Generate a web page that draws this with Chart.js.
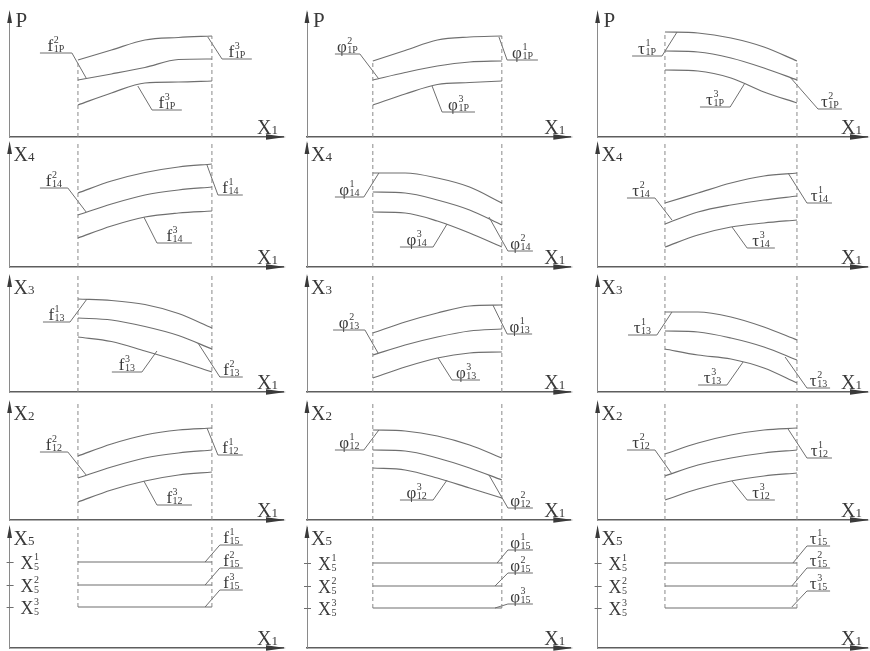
<!DOCTYPE html>
<html>
<head>
<meta charset="utf-8">
<script src="https://cdn.jsdelivr.net/npm/chart.js@4.4.1/dist/chart.umd.min.js"></script>
<style>
  html, body { margin: 0; padding: 0; background: #fff; }
  #wrap { position: relative; width: 870px; height: 651px; overflow: hidden; }
  #wrap canvas { position: absolute; }
</style>
</head>
<body>
<div id="wrap"></div>
<script>
const x1Samples = [25, 37.25, 49.5, 61.75, 74];

// row axis names and the subscripts used by the curve labels of that row
const rowAxes = ["P", "X4", "X3", "X2", "X5"];
const rowSubs = ["1P", "14", "13", "12", "15"];
const colSymbols = ["f", "φ", "τ"];

// curve values (height above the X1 axis), top / middle / bottom curve
const f_P   = [[77, 87, 97, 99.5, 101], [57, 63, 69.5, 77.5, 78], [32, 44, 54, 55, 56]];
const phi_P = [[76, 86.5, 97, 100, 101], [57, 64.5, 71, 75, 76], [32, 43, 52.5, 54.5, 56]];
const tau_P = [[105, 104, 99, 90, 76], [86, 85, 79, 69, 57], [67, 66, 59, 45, 34]];

const f_X4   = [[74, 86, 94.5, 100, 103], [52, 63, 72, 77, 80], [29, 41, 50, 54, 56]];
const phi_X4 = [[94, 94, 89, 80, 64], [75, 74, 67, 57, 42], [55, 54, 46, 34, 20]];
const tau_X4 = [[64, 74, 84, 91, 94], [43, 55, 62, 67, 71], [20, 32, 40, 44, 47]];

const f_X3   = [[93, 91.5, 87.5, 78.5, 64], [74, 72, 65.5, 56.5, 43], [55, 50.5, 41, 31, 20]];
const phi_X3 = [[59, 70, 79, 86, 87], [37, 47, 55, 61, 63], [14, 25, 34, 39, 40]];
const tau_X3 = [[80, 80, 75, 65, 52], [61, 60, 54, 45, 32], [43, 37, 33, 24, 9]];

const f_X2   = [[64, 76, 85, 90, 92], [42, 53, 62, 67, 70], [18, 30, 39, 45, 48]];
const phi_X2 = [[90, 89, 84, 75, 62], [70, 69, 62, 52, 40], [52, 50, 42, 32, 22]];
const tau_X2 = [[66, 77, 85, 90, 92], [44, 55, 62, 67, 70], [20, 31, 39, 44, 47]];

const f_X5   = [[86, 86, 86, 86, 86], [63, 63, 63, 63, 63], [41, 41, 41, 41, 41]];
const phi_X5 = [[85, 85, 85, 85, 85], [62, 62, 62, 62, 62], [40, 40, 40, 40, 40]];
const tau_X5 = [[85, 85, 85, 85, 85], [62, 62, 62, 62, 62], [40, 40, 40, 40, 40]];

// curve labels: [superscript, curve x, curve y, corner x, corner y, end of underline x]
const lab_P = [
  [["2", 28.0, 59, 22.8, 84, 11.1], ["3", 72.5, 100, 77.7, 78, 88.6], ["3", 46.9, 51, 52.1, 27, 63.0]],
  [["2", 27.3, 58, 20.1, 83, 10.6], ["1", 72.9, 100, 76.0, 77, 87.7], ["3", 47.5, 51, 51.3, 25, 63.8]],
  [["1", 29.5, 105, 23.9, 81, 12.8], ["3", 54.7, 54, 49.2, 30, 38.0], ["2", 71.4, 60, 81.8, 28, 90.7]]
];
const lab_X4 = [
  [["2", 28.0, 55, 21.3, 79, 11.1], ["1", 72.2, 102, 76.2, 72, 85.3], ["3", 49.1, 50, 53.9, 24, 66.7]],
  [["1", 27.3, 94, 21.6, 70, 10.6], ["3", 53.2, 43, 47.9, 20, 35.3], ["2", 69.1, 50, 76.3, 16, 85.8]],
  [["2", 27.6, 47, 21.3, 69, 10.9], ["1", 70.7, 94, 77.7, 64, 87.0], ["3", 49.9, 40, 55.5, 19, 65.8]]
];
const lab_X3 = [
  [["1", 28.3, 93, 22.1, 70, 12.2], ["3", 53.9, 41, 48.4, 20, 37.4], ["2", 68.9, 49, 76.9, 15, 85.3]],
  [["2", 27.0, 39, 22.0, 62, 9.9], ["1", 70.6, 87, 76.0, 58, 85.5], ["3", 49.8, 34, 55.1, 12, 65.7]],
  [["1", 27.6, 80, 22.0, 57, 11.3], ["3", 54.0, 30, 48.0, 7, 37.3], ["2", 69.6, 35, 77.7, 4, 86.3]]
];
const lab_X2 = [
  [["2", 28.0, 45, 21.3, 68, 11.1], ["1", 72.2, 92, 76.2, 65, 85.3], ["3", 49.1, 39, 53.9, 15, 66.7]],
  [["1", 27.3, 90, 21.6, 70, 10.6], ["3", 53.2, 40, 47.9, 20, 35.3], ["2", 69.1, 45, 76.3, 12, 85.8]],
  [["2", 27.6, 46, 21.3, 70, 10.9], ["1", 70.7, 91, 77.7, 62, 87.0], ["3", 49.9, 39, 55.5, 20, 65.8]]
];
const lab_X5 = [
  [["1", 71.5, 86, 76.9, 103, 85.3], ["2", 71.5, 63, 76.9, 80, 85.3], ["3", 71.5, 41, 76.9, 58, 85.3]],
  [["1", 72.2, 85, 76.3, 98, 85.8], ["2", 71.4, 62, 76.3, 75, 85.8], ["3", 71.4, 40, 76.3, 44, 85.8]],
  [["1", 72.5, 85, 77.7, 102, 86.3], ["2", 72.1, 62, 77.7, 80, 86.3], ["3", 72.1, 41, 77.7, 57, 86.3]]
];

const rows = [
  { curves: [f_P, phi_P, tau_P], labels: lab_P, span: "curve" },
  { curves: [f_X4, phi_X4, tau_X4], labels: lab_X4, span: "full" },
  { curves: [f_X3, phi_X3, tau_X3], labels: lab_X3, span: "full" },
  { curves: [f_X2, phi_X2, tau_X2], labels: lab_X2, span: "full" },
  { curves: [f_X5, phi_X5, tau_X5], labels: lab_X5, span: "band", ticks: true }
];

// page layout (pixels)
const colBox = [
  { x0: 0, w: 290, axis: 9.6, end: 283 },
  { x0: 290, w: 290, axis: 307, end: 570.3 },
  { x0: 580, w: 290, axis: 597.6, end: 867 }
];
const rowBox = [
  { y0: 0, y1: 147, top: 12, axis: 137 },
  { y0: 137, y1: 277, top: 143, axis: 267 },
  { y0: 267, y1: 402, top: 276, axis: 392 },
  { y0: 392, y1: 530, top: 402, axis: 520 },
  { y0: 520, y1: 651, top: 527, axis: 648 }
];

const INK = "#3a3a3a";
const LINE = "#6f6f6f";
const SERIF = '"Liberation Serif", "DejaVu Serif", serif';

function drawXName(ctx, name, x, base, big, small) {
  ctx.font = big + "px " + SERIF;
  ctx.fillText(name[0], x, base);
  if (name.length > 1) {
    const w = ctx.measureText(name[0]).width;
    ctx.font = small + "px " + SERIF;
    ctx.fillText(name.slice(1), x + w, base);
  }
}

function drawIndexed(ctx, sym, sup, sub, x, base, big, small) {
  ctx.font = big + "px " + SERIF;
  const w = ctx.measureText(sym).width;
  ctx.fillText(sym, x, base);
  ctx.font = small + "px " + SERIF;
  ctx.fillText(sup, x + w + 0.5, base - big * 0.5);
  ctx.fillText(sub, x + w + 0.5, base + 1);
}

function indexedWidth(ctx, sym, sup, sub, big, small) {
  ctx.font = big + "px " + SERIF;
  const w = ctx.measureText(sym).width;
  ctx.font = small + "px " + SERIF;
  return w + 0.5 + Math.max(ctx.measureText(sup).width, ctx.measureText(sub).width);
}

const decor = {
  id: "decor",
  afterDatasetsDraw(chart, args, o) {
    const { ctx, chartArea: a, scales: { x, y } } = chart;
    ctx.save();
    ctx.fillStyle = INK;
    // arrow heads
    ctx.beginPath();
    ctx.moveTo(a.left, a.top - 2);
    ctx.lineTo(a.left - 2.4, a.top + 11);
    ctx.lineTo(a.left + 2.4, a.top + 11);
    ctx.closePath();
    ctx.fill();
    ctx.beginPath();
    ctx.moveTo(a.right + 3, a.bottom);
    ctx.lineTo(a.right - 17, a.bottom - 2.8);
    ctx.lineTo(a.right - 17, a.bottom + 2.8);
    ctx.closePath();
    ctx.fill();
    // axis names
    ctx.textBaseline = "alphabetic";
    if (o.axisName === "P") {
      ctx.font = "21px " + SERIF;
      ctx.fillText("P", a.left + 6, a.top + 15);
    } else {
      drawXName(ctx, o.axisName, a.left + 4, a.top + 18, 20, 13);
    }
    drawXName(ctx, "X1", a.right - 26, a.bottom - 3, 20, 13);
    // curve labels with leader lines
    o.labels.forEach(l => {
      const cx = x.getPixelForValue(l[3]);
      const ex = x.getPixelForValue(l[5]);
      const cy = y.getPixelForValue(l[4]);
      const w = indexedWidth(ctx, o.symbol, l[0], o.sub, 17, 10);
      const mid = (cx + ex) / 2;
      drawIndexed(ctx, o.symbol, l[0], o.sub, mid - w / 2, cy - 2, 17, 10);
    });
    // X5 levels on the vertical axis
    if (o.ticks) {
      o.curves.forEach((c, i) => {
        const py = y.getPixelForValue(c[0]);
        ctx.strokeStyle = LINE;
        ctx.lineWidth = 1;
        ctx.beginPath();
        ctx.moveTo(a.left - 3, py + 0.5);
        ctx.lineTo(a.left + 4, py + 0.5);
        ctx.stroke();
        drawIndexed(ctx, "X", String(i + 1), "5", a.left + 11, py + 7, 18, 10);
      });
    }
    ctx.restore();
  }
};

function verticals(vals, span, yMax) {
  return [0, x1Samples.length - 1].map(i => {
    const at = vals.map(v => v[i]);
    const lo = span === "band" ? Math.min(...at) : 0;
    const hi = span === "curve" ? Math.max(...at) : yMax;
    return [{ x: x1Samples[i], y: lo }, { x: x1Samples[i], y: hi }];
  });
}

const wrap = document.getElementById("wrap");

rows.forEach((row, r) => {
  const rb = rowBox[r];
  const yMax = rb.axis - rb.top;
  colBox.forEach((cb, c) => {
    const canvas = document.createElement("canvas");
    canvas.width = cb.w;
    canvas.height = rb.y1 - rb.y0;
    canvas.style.left = cb.x0 + "px";
    canvas.style.top = rb.y0 + "px";
    wrap.appendChild(canvas);

    const vals = row.curves[c];
    const datasets = [];
    vals.forEach(v => {
      datasets.push({
        data: x1Samples.map((xv, i) => ({ x: xv, y: v[i] })),
        borderColor: LINE, borderWidth: 1.2,
        cubicInterpolationMode: "monotone"
      });
    });
    verticals(vals, row.span, yMax).forEach(seg => {
      datasets.push({ data: seg, borderColor: "#8a8a8a", borderWidth: 1, borderDash: [4, 3] });
    });
    row.labels[c].forEach(l => {
      datasets.push({
        data: [{ x: l[1], y: l[2] }, { x: l[3], y: l[4] }, { x: l[5], y: l[4] }],
        borderColor: LINE, borderWidth: 1, tension: 0
      });
    });

    new Chart(canvas.getContext("2d"), {
      type: "scatter",
      data: { datasets: datasets },
      options: {
        responsive: false,
        animation: false,
        devicePixelRatio: 1,
        showLine: true,
        clip: false,
        elements: { point: { radius: 0, hoverRadius: 0 } },
        layout: {
          padding: {
            left: cb.axis - cb.x0,
            right: cb.x0 + cb.w - cb.end,
            top: rb.top - rb.y0,
            bottom: rb.y1 - rb.axis
          }
        },
        scales: {
          x: {
            type: "linear", min: 0, max: 100,
            ticks: { display: false },
            grid: { display: false, drawTicks: false },
            border: { display: true, color: "#5e5e5e", width: 1.4 }
          },
          y: {
            type: "linear", min: 0, max: yMax,
            ticks: { display: false },
            grid: { display: false, drawTicks: false },
            border: { display: true, color: "#8a8a8a", width: 1, dash: [3, 2] }
          }
        },
        plugins: {
          legend: { display: false },
          tooltip: { enabled: false },
          decor: {
            axisName: rowAxes[r],
            symbol: colSymbols[c],
            sub: rowSubs[r],
            labels: row.labels[c],
            curves: vals,
            ticks: !!row.ticks
          }
        }
      },
      plugins: [decor]
    });
  });
});
</script>
</body>
</html>
